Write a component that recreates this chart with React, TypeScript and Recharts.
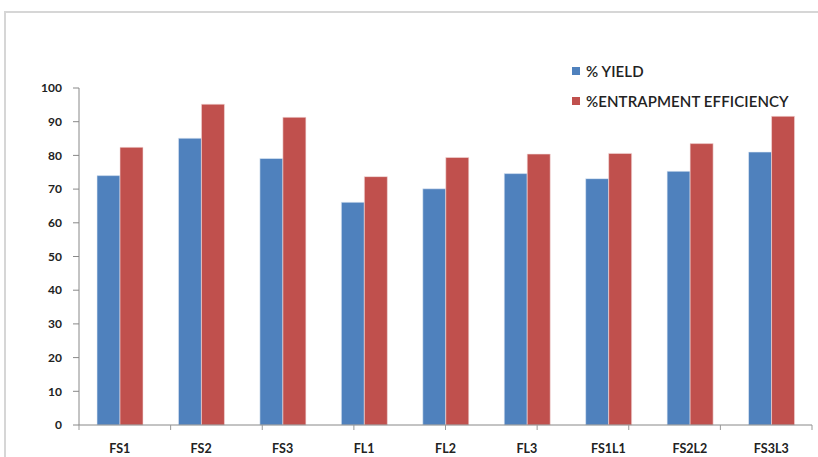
import { BarChart, Bar, XAxis, YAxis, Legend } from 'recharts';

const categories = ['FS1', 'FS2', 'FS3', 'FL1', 'FL2', 'FL3', 'FS1L1', 'FS2L2', 'FS3L3'];
const yieldValues = [74, 85.1, 79.1, 66.1, 70.1, 74.6, 73.1, 75.3, 81];
const entrapmentValues = [82.4, 95.2, 91.3, 73.7, 79.4, 80.4, 80.6, 83.5, 91.6];
const yTicks = [0, 10, 20, 30, 40, 50, 60, 70, 80, 90, 100];
const boundaryTicks = [0, 1, 2, 3, 4, 5, 6, 7, 8, 9];

const seriesNames = ['% YIELD', '%ENTRAPMENT EFFICIENCY'];

const data = categories.map((name, i) => ({
  name,
  yield: yieldValues[i],
  entrapment: entrapmentValues[i],
}));

const FONT = 'Lato, "Open Sans", sans-serif';

function LegendBox({ payload }: any) {
  return (
    <div style={{ fontFamily: FONT, fontSize: 15, fontWeight: 600, color: '#222', letterSpacing: 0.1 }}>
      {(payload || []).map((p: any, i: number) => (
        <div key={i} style={{ display: 'flex', alignItems: 'center', height: 18, marginBottom: 12 }}>
          <span style={{ display: 'inline-block', width: 8, height: 8, background: p.color, marginRight: 6 }} />
          <span>{p.value}</span>
        </div>
      ))}
    </div>
  );
}

export default function App() {
  return (
    <div style={{ position: 'absolute', left: 0, top: 0, width: 818, height: 457, overflow: 'hidden', background: '#fff' }}>
      <div style={{ position: 'absolute', left: 4, top: 11, width: 900, height: 600, border: '2px solid #d6d6d6' }} />
      <div style={{ position: 'absolute', left: 0, top: 0 }}>
        <BarChart
          width={818}
          height={457}
          data={data}
          margin={{ top: 88, right: 6, bottom: 0, left: 0 }}
          barGap={0}
          barSize={23}
        >
          <XAxis
            xAxisId="bounds"
            type="number"
            domain={[0, 9]}
            ticks={boundaryTicks}
            allowDataOverflow
            height={1}
            tickSize={5}
            tickFormatter={() => ''}
            stroke="#888"
            tickLine={{ stroke: '#999' }}
          />
          <XAxis
            xAxisId="cat"
            dataKey="name"
            height={31}
            axisLine={false}
            tickLine={false}
            tickMargin={12}
            tick={{ fontFamily: FONT, fontSize: 12.5, fontWeight: 700, fill: '#222' }}
          />
          <YAxis
            width={79}
            domain={[0, 100]}
            ticks={yTicks}
            interval={0}
            tickSize={6}
            tickMargin={11}
            stroke="#888"
            tick={{ fontFamily: FONT, fontSize: 12, fontWeight: 700, fill: '#222' }}
          />
          <Legend
            layout="horizontal"
            verticalAlign="middle"
            align="center"
            content={<LegendBox />}
            wrapperStyle={{ left: 572, top: 62, width: 240 }}
          />
          <Bar
            xAxisId="cat"
            dataKey="yield"
            name={seriesNames[0]}
            fill="#4F81BD"
            stroke="#e4ecf6"
            strokeWidth={0.6}
            isAnimationActive={false}
          />
          <Bar
            xAxisId="cat"
            dataKey="entrapment"
            name={seriesNames[1]}
            fill="#C0504D"
            stroke="#f3dcdc"
            strokeWidth={0.6}
            isAnimationActive={false}
          />
        </BarChart>
      </div>
    </div>
  );
}
